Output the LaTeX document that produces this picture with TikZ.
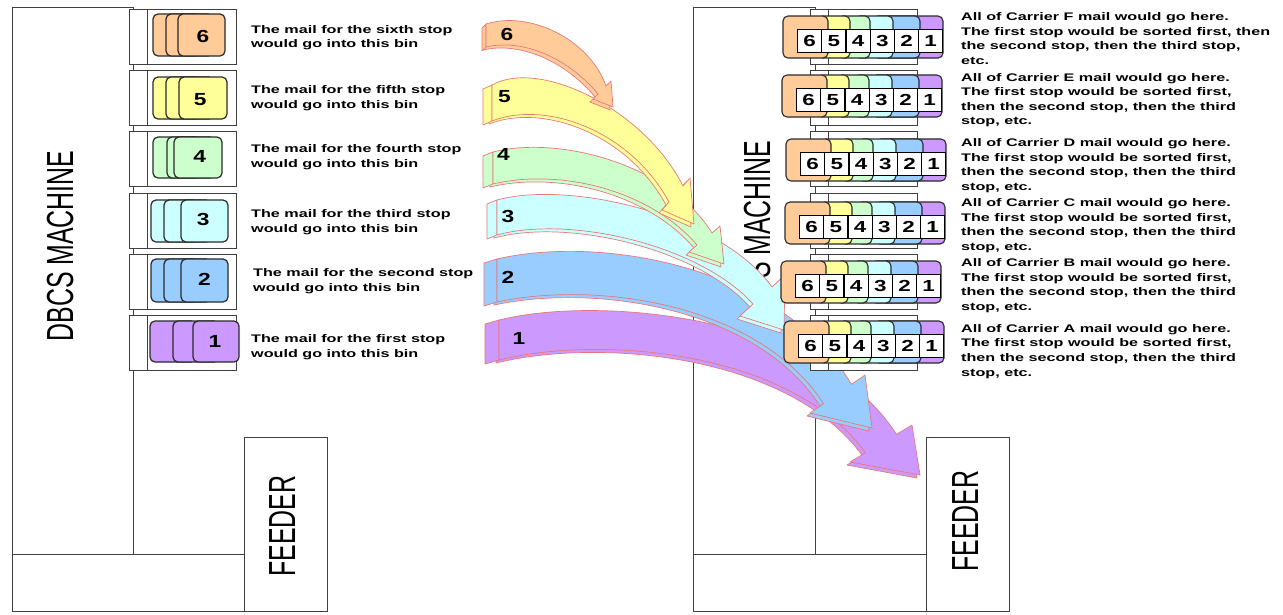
\documentclass[tikz,border=0pt]{standalone}
\usepackage{fontspec}
\setmainfont{Liberation Sans}
\newfontfamily\txtfont[FakeStretch=1.47]{Liberation Sans}
\newfontfamily\cardfont[FakeStretch=1.3]{Liberation Sans}
\newfontfamily\trayfont[FakeStretch=1.4]{Liberation Sans}
\newfontfamily\bigfont[FakeStretch=0.66]{Liberation Sans}
\usetikzlibrary{calc}
\definecolor{cpeach}{HTML}{FFCC99}
\definecolor{cyel}{HTML}{FFFF99}
\definecolor{cgreen}{HTML}{CCFFCC}
\definecolor{ccyan}{HTML}{CCFFFF}
\definecolor{cblue}{HTML}{99CCFF}
\definecolor{cpurp}{HTML}{CC99FF}
\definecolor{aline}{HTML}{E87878}
\definecolor{framec}{HTML}{404040}
\definecolor{cardline}{HTML}{2A2A2A}
\tikzset{
  machline/.style={draw=framec, line width=1pt},
  binbox/.style={draw=framec, fill=white, line width=0.9pt},
  cardbox/.style={draw=cardline, line width=1.2pt, rounded corners=5pt},
  tabbox/.style={draw=cardline, line width=1.1pt, rounded corners=5pt},
  numbox/.style={draw=black, fill=white, line width=1.2pt, inner sep=0pt,
    font=\trayfont\bfseries\fontsize{16}{16}\selectfont},
  cardnum/.style={inner sep=0pt, font=\cardfont\bfseries\fontsize{17.5}{18}\selectfont},
  arrface/.style={draw=aline, line width=0.7pt, line join=round},
  desctext/.style={inner sep=0pt, anchor=base west, align=left,
    font=\txtfont\bfseries\fontsize{11}{14.6}\selectfont},
  bigtext/.style={inner sep=0pt, anchor=base, rotate=90,
    font=\bigfont\fontsize{37.7}{40}\selectfont},
}
\newcommand\arrowpath[1]{(#1T0) .. controls (#1Tc1) and (#1Tc2) .. (#1NT) -- (#1WT) -- (#1TIP) -- (#1WB) -- (#1NB) .. controls (#1Bc2) and (#1Bc1) .. (#1B0) -- cycle}
\newcommand\drawarrow[3]{%
  \begin{scope}[transform canvas={shift={(-3,3)}}]
    \filldraw[arrface, fill=#2] \arrowpath{#1};
  \end{scope}
  \filldraw[arrface, fill=#2] (#1T0) -- ++(-#3,4) -- ($(#1B0)+(-#3,4)$) -- (#1B0) -- cycle;
  \filldraw[arrface, fill=#2] \arrowpath{#1};
}
\begin{document}
\begin{tikzpicture}[x=1pt,y=-1pt]
\useasboundingbox (0,0) rectangle (1283,614);
\fill[white] (0,0) rectangle (1283,614);

% ---------- left machine ----------
\draw[machline] (12,7) rectangle (133,554);
\draw[machline] (12,554) rectangle (244,611);
\draw[machline] (244,437) rectangle (327,611);
\node[bigtext] (dbcsL) at (73,246) {DBCS MACHINE};
\node[bigtext] (feedL) at (295,526) {FEEDER};

\foreach \y in {9,70,131,193,254,315}{
  \filldraw[binbox] (129,\y) rectangle (236,\y+55);
  \draw[binbox] (147,\y) -- (147,\y+55);
}
\foreach \n/\yt/\yb/\xa/\xb/\xc/\w/\col/\nx/\ny in {
  6/14/56/153/166/178/47/cpeach/203/36.7,
  5/77/119/153/166/179/48/cyel/200.3/100,
  4/137/178/153/167/174/48/cgreen/199.7/156.7,
  3/200/242/151/164/181/47/ccyan/203.3/219.7,
  2/259/302/151/164/181/47/cblue/204.5/279.7,
  1/321/362/150/173/193/46/cpurp/215/341}{
  \filldraw[cardbox, fill=\col] (\xa,\yt) rectangle (\xa+\w,\yb);
  \filldraw[cardbox, fill=\col] (\xb,\yt) rectangle (\xb+\w,\yb);
  \filldraw[cardbox, fill=\col] (\xc,\yt) rectangle (\xc+\w,\yb);
  \node[cardnum] (card\n) at (\nx,\ny) {\n};
}
% (base anchor of a two-line node is the second line's baseline)
\node[desctext] (tx6) at (251,47.9) {The mail for the sixth stop\\would go into this bin};
\node[desctext] (tx5) at (251,108.1) {The mail for the fifth stop\\would go into this bin};
\node[desctext] (tx4) at (251,167.1) {The mail for the fourth stop\\would go into this bin};
\node[desctext] (tx3) at (251,232.1) {The mail for the third stop\\would go into this bin};
\node[desctext] (tx2) at (253,291.1) {The mail for the second stop\\would go into this bin};
\node[desctext] (tx1) at (251,357.1) {The mail for the first stop\\would go into this bin};

% ---------- right machine ----------
\draw[machline] (693,7) rectangle (815,554);
\draw[machline] (693,554) rectangle (926,611);
\draw[machline] (926,437) rectangle (1009,611);
\node[bigtext] (dbcsR) at (770,236) {DBCS MACHINE};
\node[bigtext] (feedR) at (978,521) {FEEDER};

% ---------- arrows ----------
% arrow 1 (purple)
\path (499,320) coordinate (aAT0) (600,295) coordinate (aATc1) (820,315) coordinate (aATc2)
  (896.5,434.3) coordinate (aANT) (912,425) coordinate (aAWT) (920,475) coordinate (aATIP)
  (850,462) coordinate (aAWB) (865.5,452.7) coordinate (aANB) (790,350) coordinate (aABc2)
  (600,335) coordinate (aABc1) (499,360) coordinate (aAB0);
% arrow 2 (blue)
\path (497,259) coordinate (aBT0) (600,235) coordinate (aBTc1) (780,265) coordinate (aBTc2)
  (851.5,384.3) coordinate (aBNT) (865,375) coordinate (aBWT) (872,428) coordinate (aBTIP)
  (810,413) coordinate (aBWB) (823.5,403.7) coordinate (aBNB) (760,305) coordinate (aBBc2)
  (600,280) coordinate (aBBc1) (497,302) coordinate (aBB0);
% arrow 3 (cyan)
\path (497,200) coordinate (aCT0) (570,180) coordinate (aCTc1) (720,215) coordinate (aCTc2)
  (772,287) coordinate (aCNT) (785,275) coordinate (aCWT) (784,330) coordinate (aCTIP)
  (740,316) coordinate (aCWB) (753,304) coordinate (aCNB) (700,245) coordinate (aCBc2)
  (570,215) coordinate (aCBc1) (497,235) coordinate (aCB0);
% arrow 4 (green)
\path (493,152) coordinate (aDT0) (560,135) coordinate (aDTc1) (670,165) coordinate (aDTc2)
  (712,233) coordinate (aDNT) (720,226) coordinate (aDWT) (724,264) coordinate (aDTIP)
  (689,252) coordinate (aDWB) (697,245) coordinate (aDNB) (650,190) coordinate (aDBc2)
  (560,168) coordinate (aDBc1) (493,184) coordinate (aDB0);
% arrow 5 (yellow)
\path (492,85) coordinate (aET0) (540,58) coordinate (aETc1) (645,110) coordinate (aETc2)
  (683,186) coordinate (aENT) (690,178) coordinate (aEWT) (694,224) coordinate (aETIP)
  (662,210) coordinate (aEWB) (669,202) coordinate (aENB) (630,130) coordinate (aEBc2)
  (545,100) coordinate (aEBc1) (492,121) coordinate (aEB0);
% arrow 6 (peach)
\path (486,24) coordinate (aFT0) (530,10) coordinate (aFTc1) (590,40) coordinate (aFTc2)
  (606,86) coordinate (aFNT) (611,81) coordinate (aFWT) (613,107) coordinate (aFTIP)
  (593,99) coordinate (aFWB) (598,94) coordinate (aFNB) (570,60) coordinate (aFBc2)
  (525,38) coordinate (aFBc1) (486,47) coordinate (aFB0);

\drawarrow{aA}{cpurp}{14}
\drawarrow{aB}{cblue}{13}
\drawarrow{aC}{ccyan}{10}
\drawarrow{aD}{cgreen}{10}
\drawarrow{aE}{cyel}{9}
\drawarrow{aF}{cpeach}{4}

\node[cardnum] (al6) at (507,34.5) {6};
\node[cardnum] (al5) at (504.5,97) {5};
\node[cardnum] (al4) at (503.5,154) {4};
\node[cardnum] (al3) at (508,216.5) {3};
\node[cardnum] (al2) at (508,277.5) {2};
\node[cardnum] (al1) at (519,338.5) {1};

% ---------- right bins and trays ----------
\foreach \y in {9,70,131,193,254,315}{
  \filldraw[binbox] (810,\y) rectangle (917,\y+55);
  \draw[binbox] (828,\y) -- (828,\y+55);
}
\foreach \r/\X/\Y in {F/783/16,E/782/75,D/786/139,C/785/202,B/781/261,A/784/321}{
  \filldraw[tabbox, fill=cpurp] (\X+100,\Y) rectangle (\X+160,\Y+42);
  \filldraw[tabbox, fill=cblue] (\X+90,\Y) rectangle (\X+137,\Y+42);
  \filldraw[tabbox, fill=ccyan] (\X+72,\Y) rectangle (\X+110,\Y+42);
  \filldraw[tabbox, fill=cgreen] (\X+55,\Y) rectangle (\X+87,\Y+42);
  \filldraw[tabbox, fill=cyel] (\X+35,\Y) rectangle (\X+67,\Y+42);
  \filldraw[tabbox, fill=cpeach] (\X,\Y) rectangle (\X+45,\Y+42);
  \foreach \k/\d in {0/6,1/5,2/4,3/3,4/2,5/1}{
    \node[numbox, minimum width=24.2pt, minimum height=23pt, anchor=north west]
      (t\r\d) at (\X+14+\k*24.2,\Y+13) {\d};
  }
}

% ---------- right texts (base anchor = last of four lines) ----------
\node[desctext] (txF) at (961,64.5) {All of Carrier F mail would go here.\\The first stop would be sorted first, then\\the second stop, then the third stop,\\etc.};
\node[desctext] (txE) at (961,124.8) {All of Carrier E mail would go here.\\The first stop would be sorted first,\\then the second stop, then the third\\stop, etc.};
\node[desctext] (txD) at (961,190.5) {All of Carrier D mail would go here.\\The first stop would be sorted first,\\then the second stop, then the third\\stop, etc.};
\node[desctext] (txC) at (961,250.3) {All of Carrier C mail would go here.\\The first stop would be sorted first,\\then the second stop, then the third\\stop, etc.};
\node[desctext] (txB) at (961,310.3) {All of Carrier B mail would go here.\\The first stop would be sorted first,\\then the second stop, then the third\\stop, etc.};
\node[desctext] (txA) at (961,376.1) {All of Carrier A mail would go here.\\The first stop would be sorted first,\\then the second stop, then the third\\stop, etc.};
\end{tikzpicture}
\end{document}
